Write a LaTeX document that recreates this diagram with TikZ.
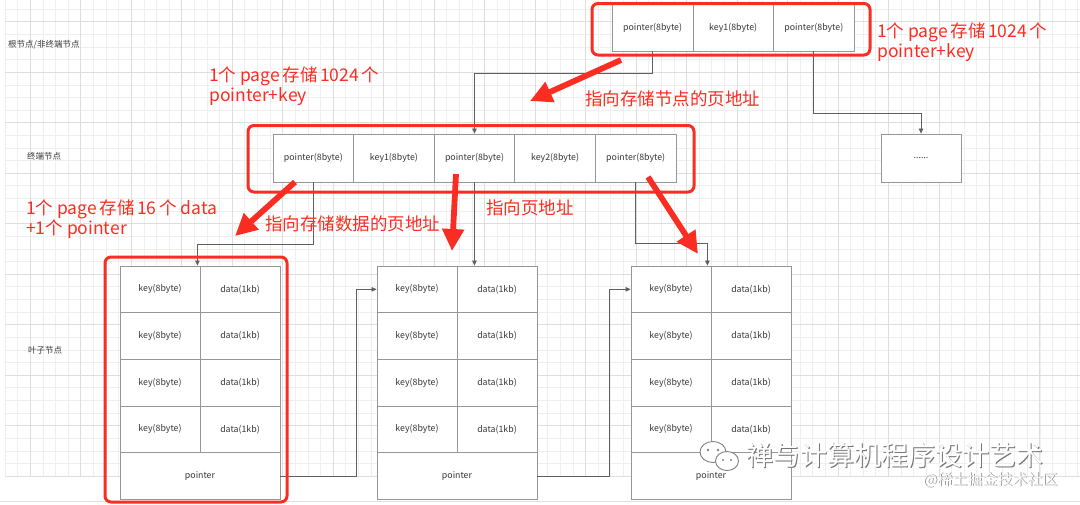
\documentclass[tikz,border=0pt]{standalone}
\usepackage{fontspec}
\setmainfont{Noto Sans CJK SC}
\usetikzlibrary{arrows.meta,calc}
\definecolor{annored}{RGB}{250,45,35}
\definecolor{cellline}{RGB}{150,150,150}
\definecolor{connline}{RGB}{95,95,95}
\definecolor{txtgray}{RGB}{55,55,55}
\definecolor{gridminor}{RGB}{239,239,239}
\definecolor{gridmajor}{RGB}{222,222,222}
\newcommand{\gapx}{\hspace{2.6pt}}
\tikzset{
  cell/.style={draw=cellline, fill=white, line width=0.8pt, minimum width=80.6pt, minimum height=48pt,
    inner sep=0pt, font=\fontsize{8.8}{10}\selectfont, text=txtgray},
  leafcell/.style={cell, minimum width=80pt, minimum height=46.67pt},
  ptrcell/.style={cell, minimum width=160pt, minimum height=46.67pt},
  conn/.style={draw=connline, line width=0.7pt, -{Triangle[width=4.5pt,length=5pt]}},
  redbox/.style={draw=annored, line width=3pt, rounded corners=6pt},
  redarrow/.style={draw=annored, line width=5.8pt, -{Triangle[width=21pt,length=22pt]}},
  note/.style={font=\fontsize{17.5}{20}\selectfont, text=annored, inner sep=0pt, anchor=base west},
  lab/.style={font=\fontsize{8.5}{10}\selectfont, text=txtgray, inner sep=0pt, anchor=west},
  wmshadow/.style={font=\fontsize{27}{30}\selectfont, text=black!55, inner sep=0pt, anchor=base west},
  wmtext/.style={font=\fontsize{27}{30}\selectfont, text=white, inner sep=0pt, anchor=base west},
  wmshadowsmall/.style={font=\fontsize{15}{17}\selectfont, text=black!50, inner sep=0pt, anchor=base west},
  wmtextsmall/.style={font=\fontsize{15}{17}\selectfont, text=white, inner sep=0pt, anchor=base west},
  wmicon/.style={draw=black!50, fill=white, line width=0.9pt}
}
\begin{document}
\begin{tikzpicture}[x=1pt,y=-1pt]
\useasboundingbox (0,0) rectangle (1080,504);
\fill[white] (0,0) rectangle (1080,504);
% background grid
\foreach \i in {0,...,85} {\draw[gridminor, line width=0.6pt] ({4.98+12.62*\i},0) -- ({4.98+12.62*\i},476);}
\foreach \j in {0,...,37} {\draw[gridminor, line width=0.6pt] (4.98,{9.1+12.62*\j}) -- (1080,{9.1+12.62*\j});}
\foreach \i in {2,6,...,82} {\draw[gridmajor, line width=0.7pt] ({4.98+12.62*\i},0) -- ({4.98+12.62*\i},476);}
\foreach \j in {1,5,...,37} {\draw[gridmajor, line width=0.7pt] (4.98,{9.1+12.62*\j}) -- (1080,{9.1+12.62*\j});}
\draw[black!12, line width=1.5pt] (0,501.5) -- (1080,501.5);

% level labels
\node[lab] (labroot) at (8,45) {根节点/非终端节点};
\node[lab] (labint) at (27,156) {终端节点};
\node[lab] (lableaf) at (28,350) {叶子节点};

% root node
\node[cell, minimum height=47pt] (r1) at (652.6,27.5) {pointer(8byte)};
\node[cell, minimum height=47pt] (r2) at (733.2,27.5) {key1(8byte)};
\node[cell, minimum height=47pt] (r3) at (813.8,27.5) {pointer(8byte)};

% internal node
\node[cell] (i1) at (313.3,158) {pointer(8byte)};
\node[cell] (i2) at (393.9,158) {key1(8byte)};
\node[cell] (i3) at (474.5,158) {pointer(8byte)};
\node[cell] (i4) at (555.1,158) {key2(8byte)};
\node[cell] (i5) at (635.7,158) {pointer(8byte)};

% other node
\node[cell, minimum width=80pt] (dots) at (921,158) {......};

% leaf nodes
\foreach \L/\x in {1/160, 2/417, 3/671} {
  \foreach \r/\y in {1/289.33, 2/336, 3/382.67, 4/429.33} {
    \node[leafcell] (L\L k\r) at (\x,\y) {key(8byte)};
    \node[leafcell] (L\L d\r) at (\x+80,\y) {data(1kb)};
  }
  \node[ptrcell] (L\L p) at (\x+40,476) {pointer};
}

% connectors
\draw[conn] (r1.south) -- ++(0,22) -| (i3.north);
\draw[conn] (r3.south) -- ++(0,62) -| (dots.north);
\draw[conn] (i1.south) -- ++(0,62) -| ($(L1k1.north east)+(-3,0)$);
\draw[conn] (i3.south) -- (i3.south |- L2d1.north);
\draw[conn] (i5.south) -- ++(0,61) -| ($(L3k1.north east)+(-4,0)$);
\draw[conn] (L1p.east) -- ++(76,0) |- (L2k1.west);
\draw[conn] (L2p.east) -- ++(72,0) |- (L3k1.west);

% red highlight boxes
\draw[redbox] (592,3.5) rectangle (870,55);
\draw[redbox] (248,125.5) rectangle (694,192);
\draw[redbox] (105,257) rectangle (287,502);

% red arrows
\coordinate (a1s) at (621,60);   \coordinate (a1e) at (530,101);
\coordinate (a2s) at (295,182);  \coordinate (a2e) at (235,236);
\coordinate (a3s) at (456,174);  \coordinate (a3e) at (452,251);
\coordinate (a4s) at (648,177);  \coordinate (a4e) at (698,254);
\draw[redarrow] (a1s) -- (a1e);
\draw[redarrow] (a2s) -- (a2e);
\draw[redarrow] (a3s) -- (a3e);
\draw[redarrow] (a4s) -- (a4e);

% red notes
\node[note] (nra) at (877,37.5) {1个 page\gapx 存储\gapx 1024\gapx 个};
\node[note] (nrb) at (877,57.5) {pointer+key};
\node[note] (nia) at (209,81.7) {1个 page\gapx 存储\gapx 1024\gapx 个};
\node[note] (nib) at (209,101.7) {pointer+key};
\node[note] (nla) at (26,214) {1个 page\gapx 存储\gapx 16\gapx 个 data};
\node[note] (nlb) at (26,234) {+1个 pointer};
\node[note] (p1) at (585,105.5) {指向存储节点的页地址};
\node[note] (p2) at (265,230.5) {指向存储数据的页地址};
\node[note] (p3) at (486,214) {指向页地址};

% watermark
\draw[wmicon] (713,452) ellipse (13 and 10.5);
\fill[black!50] (708,450) circle (1.3); \fill[black!50] (718,450) circle (1.3);
\draw[wmicon] (727,461) ellipse (11.5 and 9.5);
\fill[black!50] (723,460) circle (1.1); \fill[black!50] (731,460) circle (1.1);
\node[wmshadow] (wms) at (747.2,466.2) {禅与计算机程序设计艺术};
\node[wmtext] (wmt) at (746,465) {禅与计算机程序设计艺术};
\node[wmshadowsmall] (wms2) at (924,485.8) {@稀土掘金技术社区};
\node[wmtextsmall] (wmt2) at (923.2,485) {@稀土掘金技术社区};
\end{tikzpicture}
\end{document}
